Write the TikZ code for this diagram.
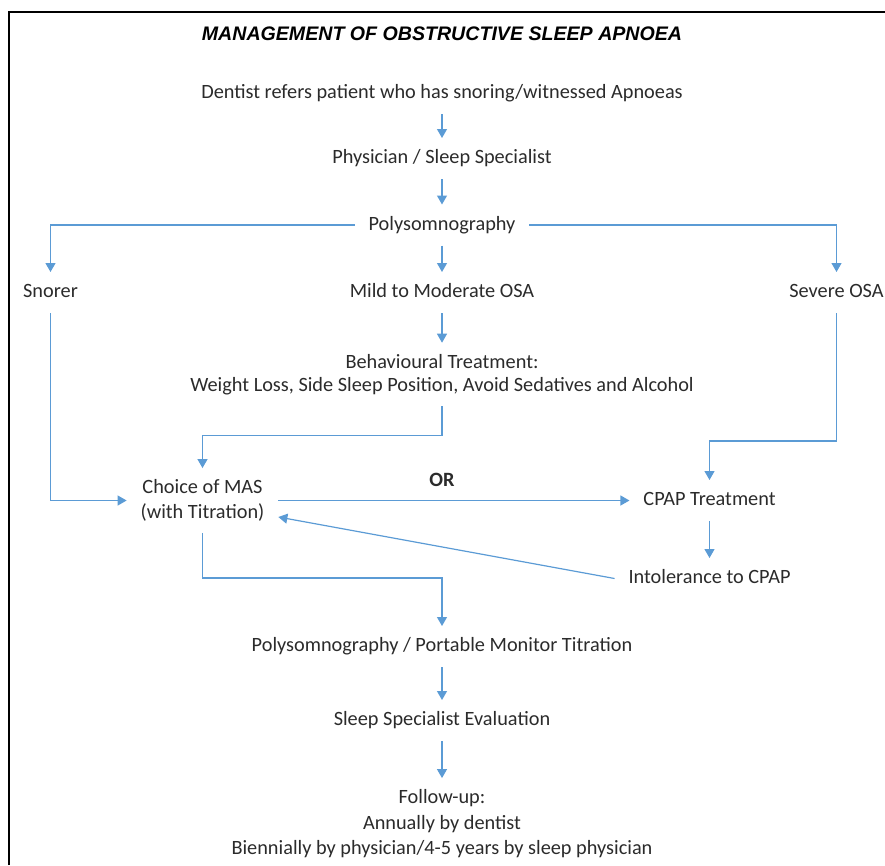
\documentclass[tikz,border=0pt]{standalone}
\usepackage{fontspec}
\setmainfont{Carlito}
\newfontfamily\titlefont{Liberation Sans}
\usetikzlibrary{arrows.meta,calc}
\definecolor{flowblue}{HTML}{5B9BD5}
\definecolor{txtgray}{HTML}{2B2B2B}
\begin{document}
\begin{tikzpicture}[x=1pt,y=-1pt,
  lbl/.style={inner sep=0pt, outer xsep=14pt, outer ysep=11.5pt, text height=14pt, text depth=4pt,
              font=\fontsize{20.3}{24}\selectfont, text=txtgray},
  multi/.style={inner sep=0pt, outer xsep=14pt, outer ysep=11.5pt, align=center, text=txtgray},
  arr/.style={draw=flowblue, line width=1.2pt, -{Triangle[length=9pt,width=10pt]}},
  frame/.style={draw=black, line width=2.6pt}]
\useasboundingbox (0,0) rectangle (885,865);
\draw[frame] (9,865) -- (9,12) -- (885,12);

\node[inner sep=0pt, font=\titlefont\bfseries\itshape\fontsize{19.6}{22}\selectfont] (title) at (442,33.5) {MANAGEMENT OF OBSTRUCTIVE SLEEP APNOEA};

\node[lbl] (dentist) at (442,93.5) {Dentist refers patient who has snoring/witnessed Apnoeas};
\node[lbl] (phys) at (442,158.5) {Physician / Sleep Specialist};
\node[lbl] (poly) at (442,225) {Polysomnography};
\node[lbl] (snorer) at (50.5,292.5) {Snorer};
\node[lbl] (mild) at (442,292.5) {Mild to Moderate OSA};
\node[lbl] (severe) at (836.5,292.5) {Severe OSA};
\node[multi, font=\fontsize{20.3}{23}\selectfont] (behav) at (442,374.5)
  {Behavioural Treatment:\\Weight Loss, Side Sleep Position, Avoid Sedatives and Alcohol};
\node[multi, font=\fontsize{20.3}{25}\selectfont] (choice) at (202.5,500.5) {Choice of MAS\\(with Titration)};
\node[lbl, font=\fontsize{20.3}{24}\selectfont\bfseries] (orlbl) at (442,481.5) {OR};
\node[lbl] (cpap) at (709.5,500.5) {CPAP Treatment};
\node[lbl] (intol) at (709.5,578.5) {Intolerance to CPAP};
\node[lbl] (pport) at (442,646.5) {Polysomnography / Portable Monitor Titration};
\node[lbl] (sse) at (442,720.5) {Sleep Specialist Evaluation};
\node[multi, font=\fontsize{20.3}{25.5}\selectfont] (follow) at (442,823.75)
  {Follow-up:\\Annually by dentist\\Biennially by physician/4-5 years by sleep physician};

\draw[arr] (dentist) -- (phys);
\draw[arr] (phys) -- (poly);
\draw[arr] (poly.west) -| (snorer.north);
\draw[arr] (poly.east) -| (severe.north);
\draw[arr] (poly) -- (mild);
\draw[arr] (mild) -- (behav);
\draw[arr] (behav.south) -- ++(0,29) -| (choice.north);
\draw[arr] (severe.south) -- ++(0,128) -| (cpap.north);
\draw[arr] (snorer.south) |- (choice.west);
\draw[arr] (choice.east) -- (cpap.west);
\draw[arr] (cpap) -- (intol);
\draw[arr] (intol.west) -- ([yshift=-16.5pt]choice.east);
\draw[arr] (choice.south) -- ++(0,45) -| (pport.north);
\draw[arr] (pport) -- (sse);
\draw[arr] (sse) -- (follow);
\end{tikzpicture}
\end{document}
